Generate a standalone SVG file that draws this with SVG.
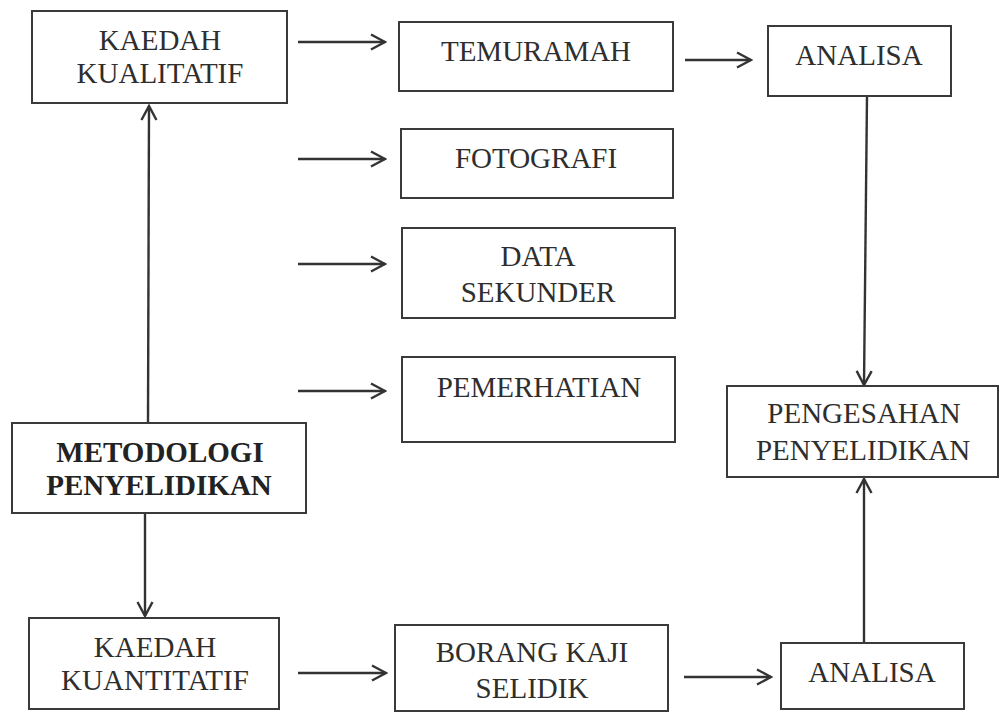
<svg xmlns="http://www.w3.org/2000/svg" width="999" height="712" viewBox="0 0 999 712">
<style>
  .box { fill: #ffffff; stroke: #3a3a3a; stroke-width: 2; }
  .lbl { font-family: "Liberation Serif", "Times New Roman", serif; font-size: 29px; fill: #2e2e2e; text-anchor: middle; }
  .bold { font-weight: bold; fill: #222; }
  .conn { stroke: #333; stroke-width: 2.4; fill: none; marker-end: url(#arr); }
</style>
<defs>
  <marker id="arr" viewBox="0 0 18 18" refX="16" refY="9" markerWidth="18" markerHeight="18" markerUnits="userSpaceOnUse" orient="auto">
    <path d="M2,1.5 L16,9 L2,16.5" fill="none" stroke="#333" stroke-width="2.4" stroke-linejoin="miter"/>
  </marker>
</defs>
<rect width="999" height="712" fill="#ffffff"/>

<g id="connectors">
  <line class="conn" x1="148" y1="423" x2="149" y2="106"/>
  <line class="conn" x1="145" y1="513" x2="145" y2="616"/>
  <line class="conn" x1="298" y1="42" x2="385" y2="42"/>
  <line class="conn" x1="298" y1="159" x2="385" y2="159"/>
  <line class="conn" x1="298" y1="264" x2="385" y2="264"/>
  <line class="conn" x1="298" y1="391" x2="385" y2="391"/>
  <line class="conn" x1="298" y1="673" x2="386" y2="673"/>
  <line class="conn" x1="685" y1="60" x2="751" y2="60"/>
  <line class="conn" x1="684" y1="677" x2="771" y2="677"/>
  <line class="conn" x1="867" y1="96" x2="864" y2="385"/>
  <line class="conn" x1="864" y1="643" x2="864" y2="479"/>
</g>

<g id="kaedah-kualitatif">
  <rect class="box" x="32" y="11" width="255" height="92"/>
  <text class="lbl" x="160" y="50">KAEDAH</text>
  <text class="lbl" x="160" y="83">KUALITATIF</text>
</g>

<g id="temuramah">
  <rect class="box" x="399" y="22" width="274" height="69"/>
  <text class="lbl" x="536" y="61">TEMURAMAH</text>
</g>

<g id="analisa-atas">
  <rect class="box" x="768" y="26" width="183" height="70"/>
  <text class="lbl" x="859" y="65">ANALISA</text>
</g>

<g id="fotografi">
  <rect class="box" x="401" y="129" width="272" height="69"/>
  <text class="lbl" x="536" y="168">FOTOGRAFI</text>
</g>

<g id="data-sekunder">
  <rect class="box" x="402" y="228" width="273" height="90"/>
  <text class="lbl" x="538" y="266">DATA</text>
  <text class="lbl" x="538" y="302">SEKUNDER</text>
</g>

<g id="pemerhatian">
  <rect class="box" x="402" y="357" width="273" height="85"/>
  <text class="lbl" x="539" y="397">PEMERHATIAN</text>
</g>

<g id="metodologi">
  <rect class="box" x="12" y="423" width="294" height="90"/>
  <text class="lbl bold" x="160" y="462">METODOLOGI</text>
  <text class="lbl bold" x="159" y="495">PENYELIDIKAN</text>
</g>

<g id="pengesahan">
  <rect class="box" x="727" y="386" width="271" height="91"/>
  <text class="lbl" x="864" y="423">PENGESAHAN</text>
  <text class="lbl" x="863" y="460">PENYELIDIKAN</text>
</g>

<g id="kaedah-kuantitatif">
  <rect class="box" x="29" y="618" width="250" height="91"/>
  <text class="lbl" x="155" y="657">KAEDAH</text>
  <text class="lbl" x="155" y="690">KUANTITATIF</text>
</g>

<g id="borang">
  <rect class="box" x="395" y="625" width="273" height="86"/>
  <text class="lbl" x="532" y="662">BORANG KAJI</text>
  <text class="lbl" x="532" y="698">SELIDIK</text>
</g>

<g id="analisa-bawah">
  <rect class="box" x="781" y="643" width="183" height="66"/>
  <text class="lbl" x="872" y="682">ANALISA</text>
</g>
</svg>
